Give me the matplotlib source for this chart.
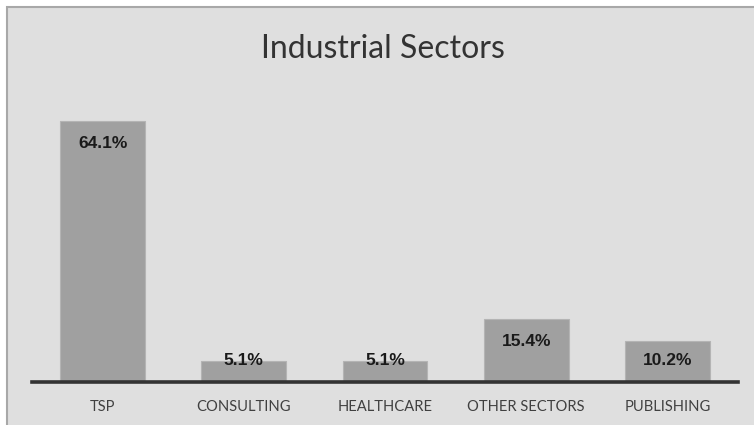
import matplotlib
matplotlib.use("Agg")
import matplotlib.pyplot as plt
from matplotlib.patches import Rectangle

categories = ["TSP", "CONSULTING", "HEALTHCARE", "OTHER SECTORS", "PUBLISHING"]
shares = [64.1, 5.1, 5.1, 15.4, 10.2]
value_labels = ["64.1%", "5.1%", "5.1%", "15.4%", "10.2%"]

W, H = 754, 425
fig = plt.figure(figsize=(W / 100, H / 100), dpi=100)
fig.patch.set_facecolor("white")

# chart area panel with a thin frame
panel = Rectangle((7 / W, -0.05), 1.1, 1 - 7 / H + 0.05, transform=fig.transFigure,
                  facecolor="#dfdfdf", edgecolor="#a8a8a8", linewidth=1.5, zorder=-1)
fig.patches.append(panel)

base_y = 382
top_y = 96
ax = fig.add_axes([32 / W, (H - base_y) / H, (738 - 32) / W, (base_y - top_y) / H])
ax.set_zorder(2)
ax.set_facecolor("none")

x = list(range(len(categories)))
ax.bar(x, shares, width=0.6, color="#a0a0a0", edgecolor="#b4b4b4", linewidth=0.8, zorder=2)
ax.set_xlim(-0.5, len(categories) - 0.5)
ax.set_ylim(0, 70.3)

for s in ["top", "right", "left"]:
    ax.spines[s].set_visible(False)
ax.spines["bottom"].set_color("#333333")
ax.spines["bottom"].set_linewidth(2.6)
ax.spines["bottom"].set_zorder(3)
ax.set_yticks([])
ax.set_xticks(x)
ax.set_xticklabels(categories, fontsize=10.6, color="#404040", family=["Lato", "DejaVu Sans"])
ax.tick_params(axis="x", length=0, pad=13)

offset = 5.4
for xi, v, lab in zip(x, shares, value_labels):
    ypos = max(v - offset, offset)
    ax.text(xi, ypos, lab, ha="center", va="center", fontsize=12.5, fontweight="bold",
            color="#1a1a1a", family=["Liberation Sans", "DejaVu Sans"], zorder=4)

fig.text(383 / W, 1 - 49 / H, "Industrial Sectors", ha="center", va="center",
         fontsize=23, color="#333333", family=["Lato", "DejaVu Sans"], zorder=5)

fig.savefig("out.png", dpi=100, facecolor=fig.get_facecolor())
